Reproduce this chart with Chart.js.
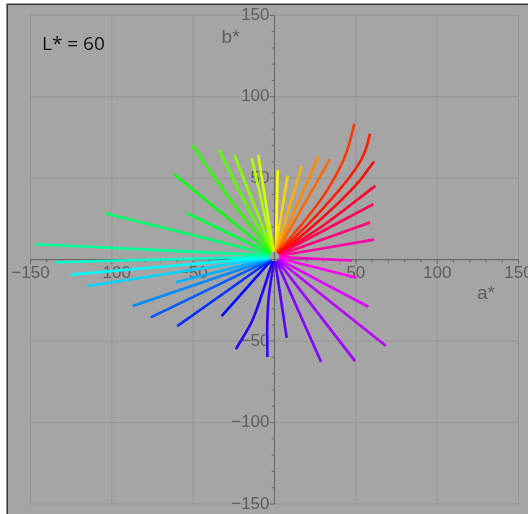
<!DOCTYPE html>
<html>
<head>
<meta charset="utf-8">
<script src="https://cdn.jsdelivr.net/npm/chart.js@4/dist/chart.umd.min.js"></script>
<style>
  html, body { margin: 0; padding: 0; background: #ffffff; }
  #wrap { width: 528px; height: 514px; position: relative; }
</style>
</head>
<body>
<div id="wrap"><canvas id="lab" width="528" height="514"></canvas></div>
<script>
// Constant-hue paths in the a*b* plane at L* = 60, one path per hue,
// listed counter-clockwise starting at red.
const lineColors = [
  '#ff0808', '#ff1e00', '#ff3a00', '#ff6a00', '#ff8c00', '#ffb000', '#ffd400', '#ffff00',
  '#d2ff00', '#aeff00', '#86ff00', '#5aff00', '#2eff00', '#10ff1a', '#00ff40', '#00ff6a',
  '#00ff99', '#00ffcc', '#00f8ff', '#00d4ff', '#00b0ff', '#0088ff', '#0058ff', '#0030ff',
  '#0008ff', '#2200ff', '#3c00ff', '#5800ff', '#7e00ff', '#9c00ff', '#b800ff', '#dc00ff',
  '#ff00f0', '#ff00cc', '#ff00a4', '#ff007e', '#ff0056', '#ff0030'
];

// a* values along each path
const lineA = [
  [2.4, 20, 40, 52, 61.2],
  [2.0, 20, 40, 50, 55.5, 58.7],
  [1.6, 15, 30, 40, 45, 49.1],
  [1.5, 34.1],
  [1.2, 27],
  [0.8, 16.7],
  [0.4, 8.1],
  [0.8, 2],
  [-0.6, -10],
  [-0.9, -14],
  [-1.2, -24.7],
  [-1.5, -18, -34.1],
  [-1.8, -28, -50.3],
  [-2.1, -61.8],
  [-2.5, -53.6],
  [-2.7, -104.2],
  [-2.9, -74.5, -146.9],
  [-3.0, -134.3],
  [-3.0, -125.2],
  [-3.0, -114.9],
  [-2.9, -60.6],
  [-2.9, -87.2],
  [-2.8, -76.1],
  [-2.5, -59.8],
  [-2.2, -32.5],
  [-1.1, -7.9, -14, -23.7],
  [-0.3, -3.4, -4.4, -4.4],
  [0.4, 7.5],
  [1.2, 28.6],
  [1.8, 49.5],
  [2.3, 68.4],
  [2.7, 57.7],
  [2.9, 50.5],
  [3.0, 47.5],
  [3.0, 61.2],
  [2.9, 58.7],
  [2.7, 60.8],
  [2.5, 30, 62]
];

// b* values along each path
const lineB = [
  [3.8, 17.5, 35.5, 48, 60.3],
  [4.0, 21, 43, 56, 66, 77.3],
  [4.4, 19.5, 39, 56, 68, 83.5],
  [4.5, 61.7],
  [4.6, 63.3],
  [4.8, 57.2],
  [5.0, 51.5],
  [5.0, 55],
  [5.0, 64.4],
  [4.9, 62.4],
  [4.8, 64.4],
  [4.6, 35, 67.5],
  [4.4, 38, 70.1],
  [4.0, 52.5],
  [3.6, 28.5],
  [3.2, 28.5],
  [2.6, 6, 9.5],
  [1.8, -1.6],
  [1.4, -9.2],
  [1.0, -16.2],
  [0.6, -13.9],
  [0.2, -28.5],
  [-0.1, -35.4],
  [-0.4, -40.8],
  [-0.6, -34.6],
  [-0.9, -21.7, -38.1, -54.9],
  [-1.0, -21.8, -38.1, -59.7],
  [-1.0, -48],
  [-0.9, -62.7],
  [-0.6, -62.3],
  [-0.2, -52.9],
  [0.2, -28.9],
  [0.8, -11.1],
  [1.6, -0.5],
  [2.4, 12.3],
  [2.8, 22.8],
  [3.2, 34.1],
  [3.6, 21, 45.3]
];

// Axis range, grid spacing and tick labels
const axisMin = -150;
const axisMax = 150;
const gridValues = [-150, -100, -50, 0, 50, 100, 150];
const minorStep = 10;
const xTickLabels = [-150, -100, -50, 50, 100, 150];
const yTickLabels = [-150, -100, -50, 50, 100, 150];
const xTitle = 'a*';
const yTitle = 'b*';
const panelTitle = 'L* = 60';

function fmt(v) {
  return v < 0 ? '\u2212' + Math.abs(v) : String(v);
}

const datasets = lineA.map((as, i) => ({
  data: as.map((a, j) => ({ x: a, y: lineB[i][j] })),
  showLine: true,
  borderColor: lineColors[i],
  backgroundColor: lineColors[i],
  borderWidth: 2.6,
  pointRadius: 0,
  pointHoverRadius: 0,
  tension: 0.35,
  fill: false,
  borderCapStyle: 'butt'
}));

const labAxes = {
  id: 'labAxes',
  beforeDraw(chart) {
    const ctx = chart.ctx;
    const xs = chart.scales.x, ys = chart.scales.y;
    ctx.save();
    // page and panel background
    ctx.fillStyle = '#ffffff';
    ctx.fillRect(0, 0, chart.width, chart.height);
    ctx.fillStyle = '#a5a5a5';
    ctx.fillRect(8, 5, chart.width - 8, chart.height - 5);
    ctx.strokeStyle = '#3a3a3a';
    ctx.lineWidth = 1.6;
    ctx.beginPath();
    ctx.moveTo(7.2, chart.height);
    ctx.lineTo(7.2, 4.2);
    ctx.lineTo(chart.width, 4.2);
    ctx.stroke();

    // grid
    const x0 = xs.getPixelForValue(axisMin), x1 = xs.getPixelForValue(axisMax);
    const y0 = ys.getPixelForValue(axisMax), y1 = ys.getPixelForValue(axisMin);
    ctx.strokeStyle = '#959595';
    ctx.lineWidth = 1;
    gridValues.forEach(v => {
      const px = xs.getPixelForValue(v);
      const py = ys.getPixelForValue(v);
      ctx.beginPath();
      ctx.moveTo(px, y0); ctx.lineTo(px, y1);
      ctx.moveTo(x0, py); ctx.lineTo(x1, py);
      ctx.stroke();
    });

    // axes through the origin
    const ox = xs.getPixelForValue(0), oy = ys.getPixelForValue(0);
    ctx.strokeStyle = '#6a6a6a';
    ctx.lineWidth = 1.1;
    ctx.beginPath();
    ctx.moveTo(x0, oy); ctx.lineTo(x1, oy);
    ctx.moveTo(ox, y0); ctx.lineTo(ox, y1);
    ctx.stroke();

    // tick marks
    ctx.lineWidth = 1;
    ctx.beginPath();
    for (let v = axisMin; v <= axisMax; v += minorStep) {
      const major = v % 50 === 0;
      const len = major ? 4.5 : 2.8;
      const px = xs.getPixelForValue(v);
      ctx.moveTo(px, oy); ctx.lineTo(px, oy + len);
      const py = ys.getPixelForValue(v);
      ctx.moveTo(ox, py); ctx.lineTo(ox - len, py);
    }
    ctx.stroke();

    // tick labels
    ctx.fillStyle = '#5e5e5e';
    ctx.font = '17px "Liberation Sans", Arial, sans-serif';
    ctx.textAlign = 'center';
    ctx.textBaseline = 'middle';
    xTickLabels.forEach(v => {
      ctx.fillText(fmt(v), xs.getPixelForValue(v), oy + 14);
    });
    ctx.textAlign = 'right';
    yTickLabels.forEach(v => {
      ctx.fillText(fmt(v), ox - 5, ys.getPixelForValue(v));
    });

    // axis titles
    ctx.font = '19px "Liberation Sans", Arial, sans-serif';
    ctx.textAlign = 'center';
    ctx.fillText(xTitle, xs.getPixelForValue(130), oy + 34);
    ctx.fillText(yTitle, xs.getPixelForValue(-27), ys.getPixelForValue(136));

    // panel title
    ctx.fillStyle = '#111111';
    ctx.font = '19px "Open Sans", "Noto Sans", sans-serif';
    ctx.textAlign = 'left';
    ctx.fillText(panelTitle, 42, 45);
    ctx.restore();
  }
};

new Chart(document.getElementById('lab'), {
  type: 'scatter',
  data: { datasets },
  options: {
    responsive: false,
    animation: false,
    layout: { padding: { left: 30.5, top: 15.3, right: 9.5, bottom: 10 } },
    plugins: { legend: { display: false }, tooltip: { enabled: false } },
    scales: {
      x: { type: 'linear', min: axisMin, max: axisMax, display: false },
      y: { type: 'linear', min: axisMin, max: axisMax, display: false }
    }
  },
  plugins: [labAxes]
});
</script>
</body>
</html>
